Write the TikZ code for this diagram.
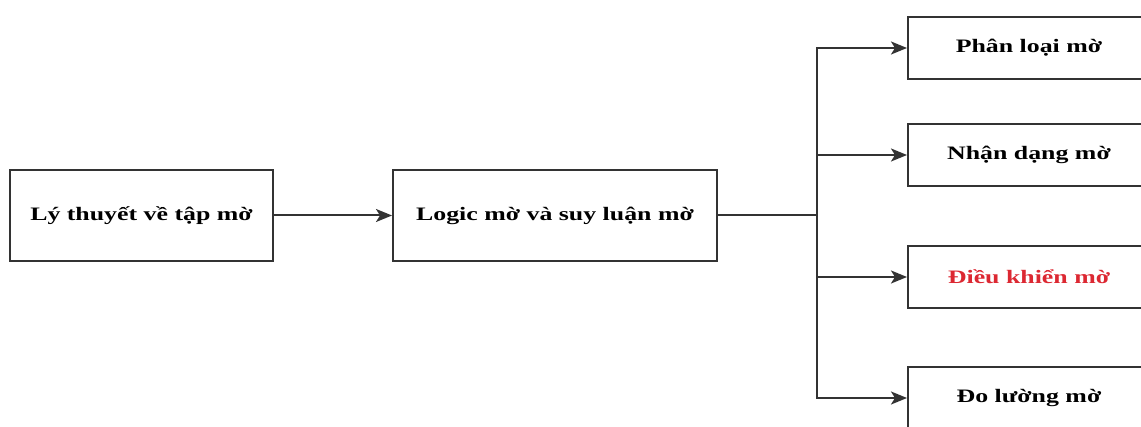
\documentclass[tikz,border=0pt]{standalone}
\usepackage{fontspec}
\setmainfont{Liberation Serif}
\newfontfamily\widefont[FakeStretch=1.36]{Liberation Serif}
\usetikzlibrary{arrows.meta}
\definecolor{redtext}{RGB}{220,40,50}
\begin{document}
\begin{tikzpicture}[x=1pt,y=-1pt,
  box/.style={draw, line width=2pt, draw=black!80, minimum height=91pt, inner sep=0pt, font=\widefont\bfseries\fontsize{19}{21}\selectfont},
  rbox/.style={box, minimum width=242pt, minimum height=62pt},
  arr/.style={line width=2pt, draw=black!80, -{Stealth[length=16pt,width=13pt,inset=4pt]}},
  ln/.style={line width=2pt, draw=black!80}]
\useasboundingbox (0,0) rectangle (1141,427);
\clip (0,0) rectangle (1141,427);
\node[box, minimum width=263pt] (b1) at (141.5,215.5) {Lý thuyết về tập mờ};
\node[box, minimum width=324pt] (b2) at (555,215.5) {Logic mờ và suy luận mờ};
\node[rbox] (r1) at (1029,48) {Phân loại mờ};
\node[rbox] (r2) at (1029,155) {Nhận dạng mờ};
\node[rbox, text=redtext] (r3) at (1029,277) {Điều khiển mờ};
\node[rbox] (r4) at (1029,398) {Đo lường mờ};
\coordinate (j) at (817,215.5);
\draw[arr] (b1) -- (b2);
\draw[ln] (b2.east) -- (j);
\draw[arr] (j) |- (r1.west);
\draw[arr] (j) |- (r2.west);
\draw[arr] (j) |- (r3.west);
\draw[arr] (j) |- (r4.west);
\end{tikzpicture}
\end{document}
